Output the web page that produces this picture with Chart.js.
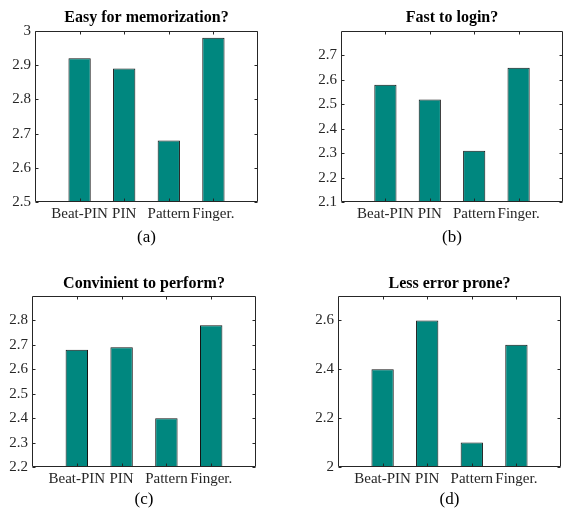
<!DOCTYPE html>
<html>
<head>
<meta charset="utf-8">
<script src="https://cdn.jsdelivr.net/npm/chart.js@4.4.0/dist/chart.umd.min.js"></script>
<style>
  body { margin: 0; background: #fff; }
  #wrap { position: relative; width: 564px; height: 510px; }
  #wrap canvas { position: absolute; }
</style>
</head>
<body>
<div id="wrap">
  <canvas id="chartA" width="282" height="255" style="left:0;top:0"></canvas>
  <canvas id="chartB" width="282" height="255" style="left:282px;top:0"></canvas>
  <canvas id="chartC" width="282" height="255" style="left:0;top:255px"></canvas>
  <canvas id="chartD" width="282" height="255" style="left:282px;top:255px"></canvas>
</div>
<script>
// data
const categories = ['Beat-PIN', 'PIN', 'Pattern', 'Finger.'];

const memorizationScores = [2.92, 2.89, 2.68, 2.98];
const loginScores = [2.58, 2.52, 2.31, 2.65];
const convenienceScores = [2.68, 2.69, 2.40, 2.78];
const errorScores = [2.40, 2.60, 2.10, 2.50];

const memorizationTicks = [2.5, 2.6, 2.7, 2.8, 2.9, 3];
const loginTicks = [2.1, 2.2, 2.3, 2.4, 2.5, 2.6, 2.7];
const convenienceTicks = [2.2, 2.3, 2.4, 2.5, 2.6, 2.7, 2.8];
const errorTicks = [2, 2.2, 2.4, 2.6];

const titles = ['Easy for memorization?', 'Fast to login?', 'Convinient to perform?', 'Less error prone?'];
const captions = ['(a)', '(b)', '(c)', '(d)'];

const FONT = "'Liberation Serif', 'Times New Roman', serif";
const AXIS_COLOR = '#262626';
const BAR_COLOR = '#00877f';
const H = 255, W = 282;

// box round the plot area with inward tick marks, like matlab
const framePlugin = {
    id: 'frame',
    afterDraw(chart) {
        const { ctx, chartArea } = chart;
        const l = Math.round(chartArea.left) + 0.5;
        const r = Math.round(chartArea.right) - 0.5;
        const t = Math.round(chartArea.top) + 0.5;
        const b = Math.round(chartArea.bottom) - 0.5;
        const len = 3;
        ctx.save();
        ctx.strokeStyle = AXIS_COLOR;
        ctx.lineWidth = 1;
        ctx.beginPath();
        ctx.rect(l, t, r - l, b - t);
        chart.scales.y.ticks.forEach(tk => {
            const py = Math.round(chart.scales.y.getPixelForValue(tk.value)) + 0.5;
            ctx.moveTo(l, py); ctx.lineTo(l + len, py);
            ctx.moveTo(r, py); ctx.lineTo(r - len, py);
        });
        chart.scales.x.ticks.forEach(tk => {
            const px = Math.round(chart.scales.x.getPixelForValue(tk.value)) + 0.5;
            ctx.moveTo(px, t); ctx.lineTo(px, t + len);
            ctx.moveTo(px, b); ctx.lineTo(px, b - len);
        });
        ctx.stroke();
        ctx.restore();
    }
};

function makePanel(id, title, caption, values, yTicks, yMin, yMax, box) {
    const capSize = 17, capLine = capSize * 1.2;
    const capBottom = Math.max(0, H - box.captionY - capLine / 2);
    const capTop = 2;
    const xAxisHeight = H - capBottom - capLine - capTop - box.bottom;
    const titleSize = 16, titleLine = titleSize * 1.2;
    const titleTop = box.titleY - titleLine / 2;
    const titleBottom = box.top - titleTop - titleLine;

    new Chart(document.getElementById(id), {
        type: 'bar',
        data: {
            datasets: [{
                data: categories.map((c, i) => ({ x: i + 1, y: values[i] })),
                base: yMin,
                backgroundColor: BAR_COLOR,
                borderColor: '#141414',
                borderWidth: 1,
                borderSkipped: false,
                categoryPercentage: 1,
                barPercentage: 0.5
            }]
        },
        plugins: [framePlugin],
        options: {
            responsive: false,
            animation: false,
            layout: { padding: { left: 0, right: W - box.right, top: 0, bottom: 0 } },
            scales: {
                x: {
                    type: 'linear',
                    offset: false,
                    min: 0,
                    max: categories.length + 1,
                    grid: { display: false, drawTicks: false },
                    border: { display: false },
                    afterBuildTicks: s => { s.ticks = categories.map((c, i) => ({ value: i + 1 })); },
                    afterFit: s => { s.height = xAxisHeight; },
                    ticks: {
                        autoSkip: false,
                        maxRotation: 0,
                        padding: 3,
                        color: AXIS_COLOR,
                        font: { family: FONT, size: 15 },
                        callback: v => categories[v - 1]
                    }
                },
                y: {
                    min: yMin,
                    max: yMax,
                    grid: { display: false, drawTicks: false },
                    border: { display: false },
                    afterBuildTicks: s => { s.ticks = yTicks.map(v => ({ value: v })); },
                    afterFit: s => { s.width = box.left; },
                    ticks: {
                        padding: 4,
                        color: AXIS_COLOR,
                        font: { family: FONT, size: 15 },
                        callback: v => String(v)
                    }
                }
            },
            plugins: {
                legend: { display: false },
                tooltip: { enabled: false },
                title: {
                    display: true,
                    text: title,
                    fullSize: false,
                    color: '#000',
                    font: { family: FONT, size: titleSize, weight: 'bold' },
                    padding: { top: titleTop, bottom: titleBottom }
                },
                subtitle: {
                    display: true,
                    text: caption,
                    position: 'bottom',
                    fullSize: false,
                    color: '#000',
                    font: { family: FONT, size: capSize },
                    padding: { top: capTop, bottom: capBottom }
                }
            }
        }
    });
}

document.addEventListener('DOMContentLoaded', function () {
    makePanel('chartA', titles[0], captions[0], memorizationScores, memorizationTicks, 2.5, 3,
        { left: 35, right: 258, top: 31, bottom: 202, titleY: 18, captionY: 238 });
    makePanel('chartB', titles[1], captions[1], loginScores, loginTicks, 2.1, 2.8,
        { left: 59, right: 281, top: 31, bottom: 202, titleY: 18, captionY: 238 });
    makePanel('chartC', titles[2], captions[2], convenienceScores, convenienceTicks, 2.2, 2.9,
        { left: 32, right: 256, top: 41, bottom: 212, titleY: 29, captionY: 247 });
    makePanel('chartD', titles[3], captions[3], errorScores, errorTicks, 2, 2.7,
        { left: 56, right: 279, top: 41, bottom: 212, titleY: 29, captionY: 247 });
});
</script>
</body>
</html>
